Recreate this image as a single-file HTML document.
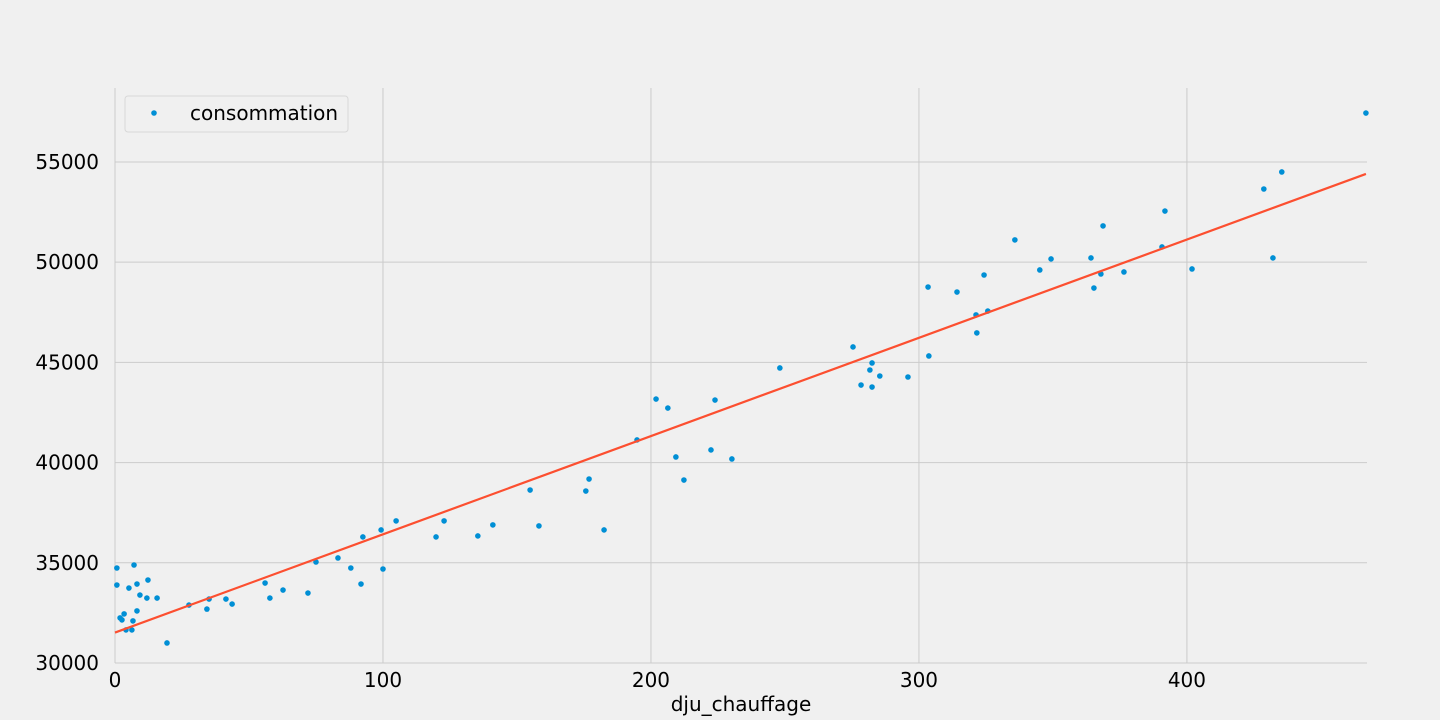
<!DOCTYPE html>
<html><head><meta charset="utf-8"><style>
html,body{margin:0;padding:0;background:#f0f0f0;}
svg{display:block;font-family:"DejaVu Sans","Liberation Sans",sans-serif;}
</style></head><body>
<svg id="chart" width="1440" height="720" xmlns="http://www.w3.org/2000/svg">
<rect width="1440" height="720" fill="#f0f0f0"/>
<g id="grid"></g>
<g id="ticks"></g>
<g id="marks"></g>
<g id="fit"></g>
<text x="741" y="711" font-size="20" text-anchor="middle" fill="#000">dju_chauffage</text>
<g>
<rect x="125" y="96" width="223" height="36" rx="3" fill="#f0f0f0" stroke="#d8d8d8"/>
<circle cx="154" cy="113" r="2.8" fill="#008fd5"/>
<text x="190" y="120" font-size="20" fill="#000">consommation</text>
</g>
</svg>
<script>
const djuValues=[0.7,0.7,1.9,3.4,2.6,4.1,6.3,5.2,6.7,7.1,8.2,8.2,9.3,11.9,12.3,15.7,19.4,27.6,34.3,35.1,41.4,43.7,56,57.8,62.7,72,75,83.2,88,91.8,92.5,99.3,100,104.9,119.8,122.8,135.4,141,154.9,158.2,175.7,176.9,182.5,194.8,201.9,206.3,209.3,212.3,222.4,223.9,230.2,248.1,275.4,278.4,281.7,282.5,282.5,285.4,295.9,303.4,303.7,314.2,321.3,321.6,324.3,325.7,335.8,345.1,349.3,364.2,365.3,367.9,368.7,376.5,390.7,391.8,401.9,428.7,432.1,435.4,466.8];
const consoValues=[34740,33890,32250,32450,32150,31650,31650,33740,32100,34890,32600,33940,33390,33240,34140,33240,31000,32890,32690,33190,33190,32940,33990,33240,33640,33490,35040,35240,34740,33940,36290,36640,34690,37090,36290,37090,36340,36890,38630,36840,38580,39180,36640,41130,43170,42720,40280,39130,40630,43120,40180,44720,45770,43870,44620,44970,43770,44320,44270,48760,45320,48510,47370,46470,49360,47560,51110,49610,50160,50210,48710,49410,51810,49510,50760,52550,49660,53650,50210,54500,57440];
const xTicks=[0,100,200,300,400];
const yTicks=[30000,35000,40000,45000,50000,55000];
const X0=115,X1=1367,Y0=663,Y1=88,XMAX=467.2,YMIN=30000,YMAX=58690;
const sx=v=>X0+(v)/XMAX*(X1-X0);
const sy=v=>Y0-(v-YMIN)/(YMAX-YMIN)*(Y0-Y1);
const NS="http://www.w3.org/2000/svg";
function mk(t,a,p){const e=document.createElementNS(NS,t);for(const k in a)e.setAttribute(k,a[k]);p.appendChild(e);return e;}
const grid=document.getElementById('grid'),ticks=document.getElementById('ticks'),marks=document.getElementById('marks'),fit=document.getElementById('fit');
xTicks.forEach(t=>{
 const l=mk('line',{x1:sx(t),x2:sx(t),y1:Y1,y2:Y0,stroke:'#cbcbcb','stroke-width':1},grid);
 
 
 const tx=mk('text',{x:sx(t),y:Y0+24,'font-size':20,'text-anchor':'middle',fill:'#000'},ticks);
 tx.textContent=t;
 
 
});
yTicks.forEach(t=>{
 const l=mk('line',{x1:X0,x2:X1,y1:sy(t),y2:sy(t),stroke:'#cbcbcb','stroke-width':1},grid);
 
 
 const tx=mk('text',{x:99,y:sy(t)+7,'font-size':20,'text-anchor':'end',fill:'#000'},ticks);
 tx.textContent=t;
 
 
});
djuValues.forEach((x,i)=>{
 const c=mk('circle',{cx:sx(x),cy:sy(consoValues[i]),r:2.8,fill:'#008fd5'},marks);
 
 
});
const n=djuValues.length;
const mx=djuValues.reduce((a,b)=>a+b,0)/n,my=consoValues.reduce((a,b)=>a+b,0)/n;
let sxy=0,sxx=0;djuValues.forEach((x,i)=>{sxy+=(x-mx)*(consoValues[i]-my);sxx+=(x-mx)*(x-mx);});
const slope=sxy/sxx,icpt=my-slope*mx;
const xmax=Math.max(...djuValues);
const fl=mk('line',{x1:sx(0),y1:sy(icpt),x2:sx(xmax),y2:sy(icpt+slope*xmax),stroke:'#fc4f30','stroke-width':2.2},fit);


</script>
</body></html>
